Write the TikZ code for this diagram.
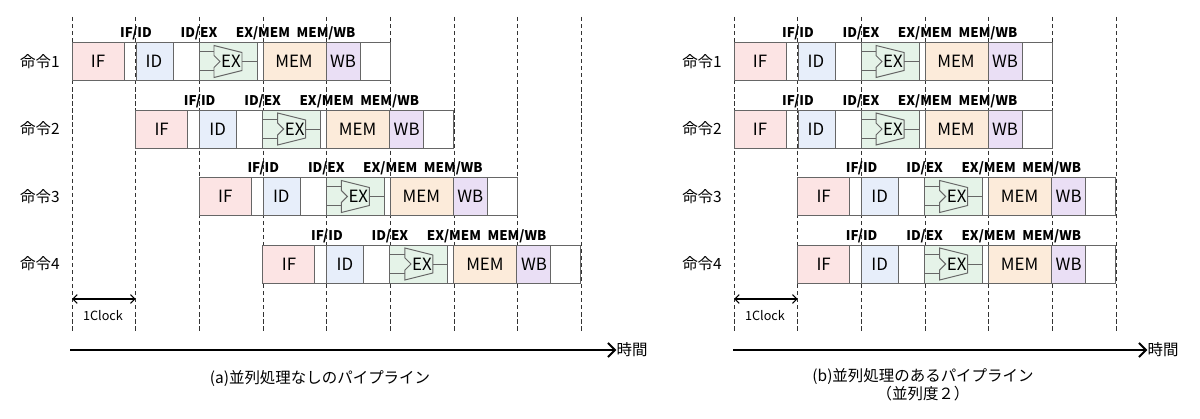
\documentclass[tikz,border=0pt]{standalone}
\usepackage{fontspec}
\setmainfont{Noto Sans CJK JP}
\usetikzlibrary{arrows.meta}
\definecolor{ifc}{HTML}{FCE4E4}
\definecolor{idc}{HTML}{E7EEFA}
\definecolor{exc}{HTML}{E5F3E8}
\definecolor{memc}{HTML}{FCEBDA}
\definecolor{wbc}{HTML}{EADFF5}
\definecolor{edge}{HTML}{666666}
\tikzset{
  cell/.style={draw=edge,line width=0.7pt},
  stage/.style={font=\fontsize{12}{14}\selectfont,inner sep=0pt},
  reg/.style={font=\bfseries\fontsize{9.5}{11}\selectfont,inner sep=0pt},
  row/.style={font=\fontsize{11}{13}\selectfont,inner sep=0pt},
  clk/.style={densely dashed,draw=black!80,line width=0.5pt},
}
% one instruction: #1 start x, #2 centre y, #3 name
\newcommand\pipeline[3]{%
  \begin{scope}[shift={(#1,#2)}]
    \draw[cell] (0,-19) rectangle (318,19);
    \draw[cell,fill=ifc] (0,-19) rectangle (52,19);
    \draw[cell,fill=idc] (64,-19) rectangle (101,19);
    \draw[cell,fill=exc] (127,-19) rectangle (185,19);
    \draw[cell,fill=memc] (191,-19) rectangle (254,19);
    \draw[cell,fill=wbc] (254,-19) rectangle (288,19);
    % ALU
    \draw[cell,fill=exc] (142,-16) -- (170,-9) -- (170,9) -- (142,16)
      -- (142,6) -- (148,0) -- (142,-6) -- cycle;
    \draw[cell] (127,-10) -- (142,-10) (127,9) -- (142,9) (170,0) -- (185,0);
    \node[stage] (#3-if) at (26,0) {IF};
    \node[stage] (#3-id) at (82,0) {ID};
    \node[stage] (#3-ex) at (159,0) {EX};
    \node[stage] (#3-mem) at (222,0) {MEM};
    \node[stage] (#3-wb) at (271,0) {WB};
    \node[reg] (#3-r1) at (64,-28) {IF/ID};
    \node[reg] (#3-r2) at (127,-28) {ID/EX};
    \node[reg] (#3-r3) at (191,-28) {EX/MEM};
    \node[reg] (#3-r4) at (254,-28) {MEM/WB};
  \end{scope}}
\begin{document}
\begin{tikzpicture}[x=0.025cm,y=-0.025cm]
  \useasboundingbox (0,0) rectangle (1200,419);
  % clock lines
  \foreach \k in {0,...,8}
    \draw[clk] ({72+63.65*\k},17) -- ({72+63.65*\k},333);
  \foreach \k in {0,...,6}
    \draw[clk] ({734+63.65*\k},17) -- ({734+63.65*\k},333);
  % (a)
  \foreach \i/\y in {1/61.5,2/129,3/196.5,4/264} {
    \node[row] (a\i) at (40,\y) {命令\i};
    \pipeline{{72+63.65*(\i-1)}}{\y}{pa\i}
  }
  % (b)
  \foreach \i/\y/\c in {1/61.5/0,2/129/0,3/196.5/1,4/264/1} {
    \node[row] (b\i) at (702,\y) {命令\i};
    \pipeline{{734+63.65*\c}}{\y}{pb\i}
  }
  % clock width
  \coordinate (ca1) at (72,299);
  \coordinate (ca2) at (135.65,299);
  \draw[{Straight Barb}-{Straight Barb},line width=0.8pt] (ca1) -- (ca2);
  \node[font=\fontsize{9}{11}\selectfont] (clka) at (103,316) {1Clock};
  \coordinate (cb1) at (734,299);
  \coordinate (cb2) at (797.65,299);
  \draw[{Straight Barb}-{Straight Barb},line width=0.8pt] (cb1) -- (cb2);
  \node[font=\fontsize{9}{11}\selectfont] (clkb) at (765,316) {1Clock};
  % time axes
  \node[row] (ta) at (632,350) {時間};
  \coordinate (ta0) at (70,350);
  \draw[-{Straight Barb[length=5pt,width=10pt]},line width=1.3pt] (ta0) -- (ta.west);
  \node[row] (tb) at (1163,350) {時間};
  \coordinate (tb0) at (733,350);
  \draw[-{Straight Barb[length=5pt,width=10pt]},line width=1.3pt] (tb0) -- (tb.west);
  % captions
  \node[row] (capa) at (320,379) {(a)並列処理なしのパイプライン};
  \node[row,align=center] (capb) at (923,385) {(b)並列処理のあるパイプライン\\（並列度２）};
\end{tikzpicture}
\end{document}
